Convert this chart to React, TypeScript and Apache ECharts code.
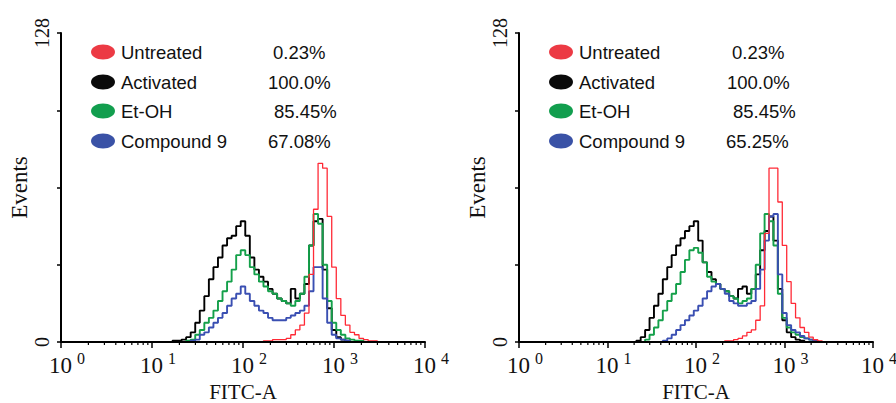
import { useEffect, useRef } from "react";
import * as echarts from "echarts";

// log10(FITC-A) bin centres
const LOG_BINS = [
  1.0, 1.05, 1.1, 1.15, 1.2, 1.25, 1.3, 1.35, 1.4, 1.45,
  1.5, 1.55, 1.6, 1.65, 1.7, 1.75, 1.8, 1.85, 1.9, 1.95,
  2.0, 2.05, 2.1, 2.15, 2.2, 2.25, 2.3, 2.35, 2.4, 2.45,
  2.5, 2.55, 2.6, 2.65, 2.7, 2.75, 2.8, 2.85, 2.9, 2.95,
  3.0, 3.05, 3.1, 3.15, 3.2, 3.25, 3.3, 3.35, 3.4, 3.45, 3.5,
];

const SERIES_NAMES = ["Untreated", "Activated", "Et-OH", "Compound 9"];
const LEFT_PERCENTS = ["0.23%", "100.0%", "85.45%", "67.08%"];
const RIGHT_PERCENTS = ["0.23%", "100.0%", "85.45%", "65.25%"];
const Y_MAX = 128;
const Y_INTERVAL = 32;
const X_DECADES = [0, 1, 2, 3, 4];

// Left panel
const L_UNTREATED = [
  0, 0, 0, 0, 0, 0, 0, 0, 0, 0,
  0, 0, 0, 0, 0, 0, 0, 0, 0, 0,
  0, 0, 0, 0, 0, 0.5, 0.5, 1, 1, 1,
  1.5, 3, 5, 7, 12, 28, 55, 74, 72, 52,
  31, 18, 11, 7, 4, 3, 1.5, 1, 0.5, 0.5, 0,
];
const L_ACTIVATED = [
  0, 0, 0, 0, 0, 0.5, 0.5, 1, 2, 4,
  8, 13, 19, 26, 31, 35, 40, 43, 44, 48,
  50, 44, 35, 30, 27, 25, 22, 20, 18, 17,
  16, 22, 18, 20, 24, 40, 50, 51, 30, 14,
  5, 2, 1, 0.5, 0, 0, 0, 0, 0, 0, 0,
];
const L_ETOH = [
  0, 0, 0, 0, 0, 0, 0, 0, 0.5, 1,
  3, 5, 8, 10, 13, 17, 21, 25, 30, 36,
  38, 36, 31, 28, 25, 23, 21, 20, 18, 17,
  16, 15, 17, 20, 27, 40, 53, 49, 32, 17,
  8, 5, 3, 1.5, 1, 0.5, 0.5, 0, 0, 0, 0,
];
const L_COMPOUND9 = [
  0, 0, 0, 0, 0, 0, 0, 0, 0, 0.5,
  1, 3, 4, 6, 8, 10, 12, 15, 18, 20,
  23, 20, 17, 15, 13, 12, 10, 9, 9, 9,
  10, 11, 12, 13, 15, 21, 31, 31, 18, 8,
  3, 1.5, 1, 0.5, 0, 0, 0, 0, 0, 0, 0,
];

// Right panel
const R_UNTREATED = [
  0, 0, 0, 0, 0, 0, 0, 0, 0, 0,
  0, 0, 0, 0, 0, 0, 0, 0, 0, 0,
  0, 0, 0, 0, 0, 0, 0, 0.5, 0.5, 1,
  1.5, 2.5, 4, 5, 9, 15, 45, 72, 72, 58,
  40, 25, 16, 10, 6, 4, 2, 1, 0.5, 0, 0,
];
const R_ACTIVATED = [
  0, 0, 0, 0, 0, 0, 0, 0.5, 2, 5,
  10, 15, 20, 26, 31, 36, 40, 43, 46, 48,
  50, 42, 33, 29, 26, 24, 22, 21, 19, 18,
  22, 23, 20, 22, 28, 38, 46, 52, 42, 22,
  9, 4, 2, 1, 0.5, 0, 0, 0, 0, 0, 0,
];
const R_ETOH = [
  0, 0, 0, 0, 0, 0, 0, 0, 0, 1,
  3, 6, 9, 13, 17, 20, 24, 29, 34, 38,
  39, 37, 33, 27, 25, 24, 22, 21, 19, 18,
  16, 17, 18, 22, 32, 45, 53, 50, 40, 20,
  10, 6, 4, 3, 2, 1.5, 1, 0.5, 0, 0, 0,
];
const R_COMPOUND9 = [
  0, 0, 0, 0, 0, 0, 0, 0, 0, 0,
  0, 0, 0, 0.5, 1.5, 3, 5, 7, 9, 11,
  13, 15, 18, 21, 23, 24, 22, 20, 17, 16,
  15, 15, 16, 17, 22, 30, 42, 52, 53, 28,
  12, 7, 5, 4, 2.5, 1.5, 1, 0.5, 0, 0, 0,
];

const LINE_COLORS = ["#ff2a36", "#000000", "#14a04a", "#3a4fb2"];
const DOT_COLORS = ["#ec3a44", "#0a0a0a", "#129e4e", "#3a52a6"];
const LINE_WIDTHS = [1.3, 1.9, 1.9, 1.9];
const DRAW_ORDER = [1, 2, 3, 0];

function trim(vals: number[]) {
  let first = vals.findIndex((v) => v > 0);
  let last = vals.length - 1;
  while (last > 0 && !(vals[last] > 0)) last--;
  const s = Math.max(0, first - 1);
  const e = Math.min(vals.length - 1, last + 1);
  const out: number[][] = [];
  for (let i = s; i <= e; i++) out.push([LOG_BINS[i], vals[i]]);
  return out;
}

const SERIF = "'Liberation Serif', 'DejaVu Serif', serif";
const SANS = "'Liberation Sans', Arial, sans-serif";

export default function App() {
  const ref = useRef<HTMLDivElement>(null);
  useEffect(() => {
    if (!ref.current) return;
    const chart = echarts.init(ref.current, null, { renderer: "svg" });

    const panels = [
      { grid: { left: 61, right: 471, top: 33, bottom: 61, containLabel: false, outerBoundsMode: "none" }, data: [L_UNTREATED, L_ACTIVATED, L_ETOH, L_COMPOUND9], pct: LEFT_PERCENTS, dotX: 103, textX: 121, pctX: [273, 268, 274, 268] },
      { grid: { left: 519, right: 23, top: 33, bottom: 61, containLabel: false, outerBoundsMode: "none" }, data: [R_UNTREATED, R_ACTIVATED, R_ETOH, R_COMPOUND9], pct: RIGHT_PERCENTS, dotX: 561, textX: 579, pctX: [732, 727, 733, 726] },
    ];
    const rowY = [52, 82, 111, 141];

    const minorTicks: number[][] = [];
    for (let n = 0; n < X_DECADES.length - 1; n++) {
      for (let k = 2; k <= 9; k++) minorTicks.push([n + Math.log10(k), 0]);
    }

    const grids: any[] = [];
    const xAxes: any[] = [];
    const yAxes: any[] = [];
    const series: any[] = [];
    const graphics: any[] = [];

    panels.forEach((p, gi) => {
      grids.push(p.grid);
      xAxes.push({
        type: "value",
        gridIndex: gi,
        min: X_DECADES[0],
        max: X_DECADES[X_DECADES.length - 1],
        interval: 1,
        z: 10,
        axisLine: { show: true, lineStyle: { color: "#000", width: 2 } },
        axisTick: { show: true, inside: false, length: 6, lineStyle: { color: "#000", width: 1.5 } },
        splitLine: { show: false },
        name: "FITC-A",
        nameLocation: "middle",
        nameGap: 38,
        nameTextStyle: { fontFamily: SERIF, fontSize: 21, color: "#111", lineHeight: 21 },
        axisLabel: {
          margin: 8,
          formatter: (v: number) => `{p|}{b|10}{s|${v}}`,
          rich: {
            p: { width: 12 },
            b: { fontFamily: SERIF, fontSize: 23, color: "#111", verticalAlign: "bottom", lineHeight: 27 },
            s: { fontFamily: SERIF, fontSize: 16, color: "#111", verticalAlign: "top", padding: [0, 0, 0, 5] },
          },
        },
      });
      yAxes.push({
        type: "value",
        gridIndex: gi,
        min: 0,
        max: Y_MAX,
        interval: Y_INTERVAL,
        z: 10,
        axisLine: { show: true, lineStyle: { color: "#000", width: 2 } },
        axisTick: { show: true, inside: false, length: 4, lineStyle: { color: "#000", width: 1.5 } },
        splitLine: { show: false },
        name: "Events",
        nameLocation: "middle",
        nameGap: 30,
        nameRotate: 90,
        nameTextStyle: { fontFamily: SERIF, fontSize: 23, color: "#111" },
        axisLabel: {
          rotate: 90,
          margin: 9,
          fontFamily: SERIF,
          fontSize: 20,
          color: "#111",
          formatter: (v: number) => (v === 0 || v === Y_MAX ? String(v) : ""),
        },
      });
      DRAW_ORDER.forEach((si) => {
        series.push({
          type: "line",
          name: SERIES_NAMES[si],
          xAxisIndex: gi,
          yAxisIndex: gi,
          data: trim(p.data[si]),
          step: "middle",
          showSymbol: false,
          symbol: "none",
          lineStyle: { color: LINE_COLORS[si], width: LINE_WIDTHS[si] },
          z: 3,
        });
      });
      series.push({
        type: "custom",
        xAxisIndex: gi,
        yAxisIndex: gi,
        data: minorTicks,
        clip: false,
        z: 11,
        silent: true,
        renderItem: (_params: any, api: any) => {
          const pt = api.coord([api.value(0), api.value(1)]);
          return {
            type: "line",
            shape: { x1: pt[0], y1: pt[1], x2: pt[0], y2: pt[1] + 3 },
            style: { stroke: "#000", lineWidth: 1.2 },
          };
        },
      });
      SERIES_NAMES.forEach((name, i) => {
        graphics.push({ type: "ellipse", shape: { cx: p.dotX, cy: rowY[i], rx: 12, ry: 7.5 }, style: { fill: DOT_COLORS[i] } });
        graphics.push({ type: "text", x: p.textX, y: rowY[i], style: { text: name, font: `18.5px ${SANS}`, fill: "#111", verticalAlign: "middle", textAlign: "left" } });
        graphics.push({ type: "text", x: p.pctX[i], y: rowY[i], style: { text: p.pct[i], font: `18.5px ${SANS}`, fill: "#111", verticalAlign: "middle", textAlign: "left" } });
      });
    });

    chart.setOption({
      animation: false,
      backgroundColor: "#fff",
      grid: grids,
      xAxis: xAxes,
      yAxis: yAxes,
      series,
      graphic: graphics,
    });
    return () => chart.dispose();
  }, []);
  return <div ref={ref} style={{ position: "fixed", left: 0, top: 0, width: 896, height: 403 }} />;
}
